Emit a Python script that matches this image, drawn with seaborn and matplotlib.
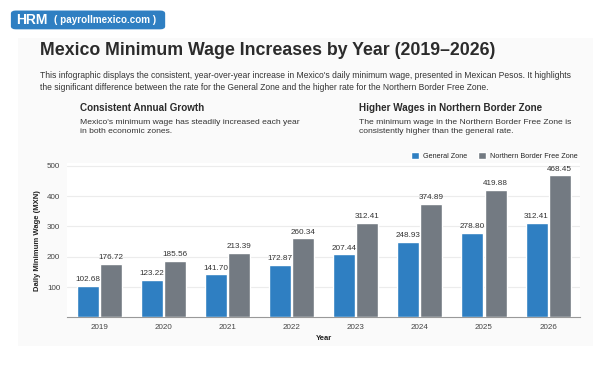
import pandas as pd
import seaborn as sns
import matplotlib.pyplot as plt
from matplotlib.patches import FancyBboxPatch, Rectangle

# data
years = ['2019', '2020', '2021', '2022', '2023', '2024', '2025', '2026']
general_zone = [102.68, 123.22, 141.70, 172.87, 207.44, 248.93, 278.80, 312.41]
northern_zone = [176.72, 185.56, 213.39, 260.34, 312.41, 374.89, 419.88, 468.45]
zones = ['General Zone', 'Northern Border Free Zone']
colors = ['#2f7fc2', '#737a82']

df = pd.DataFrame({
    'Year': years * 2,
    'Wage': general_zone + northern_zone,
    'Zone': [zones[0]] * len(years) + [zones[1]] * len(years),
})

sns.set_theme(style='white')
plt.rcParams['font.family'] = ['Liberation Sans', 'DejaVu Sans']

fig = plt.figure(figsize=(6.05, 3.76), dpi=100)
fig.patch.set_facecolor('white')

# light panel behind the infographic
fig.patches.append(Rectangle((0.03, 0.08), 0.95, 0.82, transform=fig.transFigure,
                             facecolor='#fafafa', edgecolor='none', zorder=-5))

# header badge
fig.patches.append(FancyBboxPatch((0.018, 0.922), 0.255, 0.05,
                                  boxstyle='round,pad=0,rounding_size=0.008',
                                  transform=fig.transFigure, facecolor='#2f7fc2',
                                  edgecolor='none', zorder=1))
fig.text(0.027, 0.947, 'HRM', color='white', fontsize=10, fontweight='bold', va='center')
fig.text(0.09, 0.947, '( payrollmexico.com )', color='white', fontsize=7.1,
         fontweight='bold', va='center')

fig.text(0.066, 0.865, 'Mexico Minimum Wage Increases by Year (2019\u20132026)',
         fontsize=12.8, fontweight='bold', color='#2b2b2b', va='center')
fig.text(0.066, 0.783,
         "This infographic displays the consistent, year-over-year increase in Mexico's daily minimum wage, presented in Mexican Pesos. It highlights\n"
         "the significant difference between the rate for the General Zone and the higher rate for the Northern Border Free Zone.",
         fontsize=6.15, color='#333333', va='center', linespacing=1.35)

fig.text(0.132, 0.713, 'Consistent Annual Growth', fontsize=7.1, fontweight='bold',
         color='#2b2b2b', va='center')
fig.text(0.132, 0.662, "Mexico's minimum wage has steadily increased each year\nin both economic zones.",
         fontsize=6.1, color='#333333', va='center', linespacing=1.4)
fig.text(0.594, 0.713, 'Higher Wages in Northern Border Zone', fontsize=7.1,
         fontweight='bold', color='#2b2b2b', va='center')
fig.text(0.594, 0.662, 'The minimum wage in the Northern Border Free Zone is\nconsistently higher than the general rate.',
         fontsize=6.1, color='#333333', va='center', linespacing=1.4)

ax = fig.add_axes([0.111, 0.156, 0.848, 0.411])
ax.set_zorder(2)
ax.set_facecolor('white')
sns.barplot(data=df, x='Year', y='Wage', hue='Zone', palette=colors,
            width=0.72, gap=0.05, saturation=1, ax=ax, zorder=3)

for cont in ax.containers:
    ax.bar_label(cont, fmt='%.2f', fontsize=5.9, color='#333333', padding=2)

ax.set_ylim(0, 510)
ax.set_yticks([100, 200, 300, 400, 500])
ax.yaxis.grid(True, color='#ececec', linewidth=0.8, zorder=0)
ax.set_axisbelow(True)
ax.tick_params(axis='both', labelsize=5.8, colors='#444444', length=0, pad=5)
for s in ['top', 'right', 'left']:
    ax.spines[s].set_visible(False)
ax.spines['bottom'].set_color('#999999')
ax.spines['bottom'].set_linewidth(0.8)

ax.set_ylabel('Daily Minimum Wage (MXN)', fontsize=5.5, fontweight='bold', color='#222222', labelpad=4)
ax.set_xlabel('Year', fontsize=5.5, fontweight='bold', color='#222222', labelpad=3)

ax.legend(loc='lower right', bbox_to_anchor=(1.0, 1.0), ncol=2, frameon=False,
          fontsize=5.2, handlelength=1.1, handleheight=1.1, columnspacing=1.5,
          handletextpad=0.5, borderaxespad=0)

fig.savefig('out.png', dpi=100)
